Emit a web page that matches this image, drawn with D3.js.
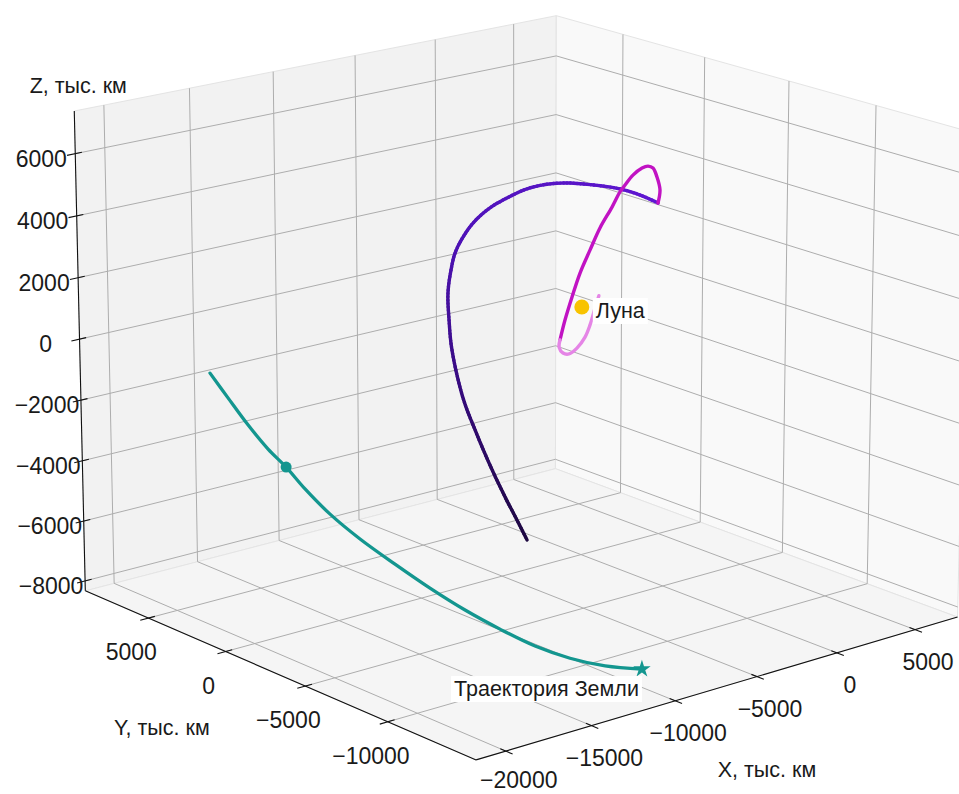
<!DOCTYPE html>
<html><head><meta charset="utf-8">
<script src="https://cdn.jsdelivr.net/npm/d3@7"></script>
<style>
body{margin:0;background:#fff}
svg{display:block}
text{font-family:"Liberation Sans",Arial,sans-serif;fill:#1a1a1a}
</style>
</head><body>
<svg id="chart" width="959" height="794"></svg>
<script>
// ---------------- data (thousand km, Moon-centred frame) ----------------
const xTicks = [-20000, -15000, -10000, -5000, 0, 5000];
const yTicks = [-10000, -5000, 0, 5000];
const zTicks = [-8000, -6000, -4000, -2000, 0, 2000, 4000, 6000];

const xDomain = [-21704, 7763];
const yDomain = [-15159, 9198];
const zDomain = [-8333, 7364];

// Earth trajectory
const earthTrack = [
  [-19840, 2780, -140], [-19380, 2160, -880], [-18870, 1460, -1690], [-18360, 770, -2400],
  [-17900, 140, -2920], [-17420, -520, -3560], [-16780, -1390, -4290], [-16010, -2430, -4990],
  [-15120, -3650, -5680], [-14230, -4870, -6330], [-13340, -6090, -6910], [-12450, -7300, -7400],
  [-11560, -8510, -7820], [-10680, -9720, -8080], [-9790, -10920, -8200], [-8870, -12180, -8160]
];
const earthMark = [-17900, 140, -2920];

// spacecraft: approach leg (colour-graded), transfer leg (magenta), capture leg (violet)
const craftLeg1 = [
  [-3430, 0, -7340], [-4130, 0, -6500], [-4810, 0, -5700], [-5750, 0, -4500], [-6610, 0, -3290],
  [-7400, 0, -2060], [-8070, 0, -390], [-8240, 0, 610], [-8300, 0, 1490], [-8110, 0, 2220],
  [-7860, 0, 2740], [-7370, 0, 3200], [-6760, 0, 3580], [-5910, 0, 3900], [-4920, 0, 4110],
  [-3260, 0, 4310], [-1390, 0, 4250], [680, 0, 3950], [2390, 0, 3620], [3670, 0, 3270], [4830, 0, 2870]
];
const craftLeg2 = [
  [4830, 0, 2870], [4950, 0, 3290], [4750, 0, 3740], [4490, 0, 4070], [4170, 0, 4170], [3790, 0, 4150],
  [3210, 0, 3980], [2710, 0, 3710], [2390, 0, 3520], [1890, 0, 3080], [1130, 0, 2480], [510, 0, 1830],
  [-120, 0, 1140], [-620, 0, 410], [-1060, 0, -300], [-1370, 0, -920]
];
const craftLeg3 = [
  [-1370, 0, -920], [-1430, 0, -1150], [-1180, 0, -1380], [-800, 0, -1460], [-300, 0, -1330],
  [210, 0, -1030], [520, 0, -670], [840, 0, -140], [1080, 0, 240]
];
const moonPos = [0, 0, 0];

const axisTitles = {x: "X, тыс. км", y: "Y, тыс. км", z: "Z, тыс. км"};
const moonLabel = "Луна";
const earthLabel = "Траектория Земли";

// ---------------- camera (matplotlib-like perspective view) ----------------
const camera = {elev: 17.05, azim: -129.83, dist: 9.317, kz: 0.805, scale: 5842.4, cx: 518.6, cy: 365.6};

const xS = d3.scaleLinear().domain(xDomain).range([0, 1]);
const yS = d3.scaleLinear().domain(yDomain).range([0, 1]);
const zS = d3.scaleLinear().domain(zDomain).range([0, 1]);

const er = camera.elev * Math.PI / 180, ar = camera.azim * Math.PI / 180;
const W = [Math.cos(er) * Math.cos(ar), Math.cos(er) * Math.sin(ar), Math.sin(er)];
const ctr = [0.5, 0.5, camera.kz / 2];
const eye = ctr.map((c, i) => c + camera.dist * W[i]);
const un = Math.hypot(W[0], W[1]);
const U = [-W[1] / un, W[0] / un, 0];
const V = [W[1] * U[2] - W[2] * U[1], W[2] * U[0] - W[0] * U[2], W[0] * U[1] - W[1] * U[0]];
const dot = (a, b) => a[0] * b[0] + a[1] * b[1] + a[2] * b[2];

function project(nx, ny, nz) {
  const d = [nx - eye[0], ny - eye[1], nz * camera.kz - eye[2]];
  const vz = -dot(W, d);
  return [camera.cx + camera.scale * dot(U, d) / vz, camera.cy - camera.scale * dot(V, d) / vz];
}
const P = d => project(xS(d[0]), yS(d[1]), zS(d[2]));

const svg = d3.select("#chart");
const line = d3.line();
const smooth = d3.line().curve(d3.curveCatmullRom.alpha(0.5));

// ---------------- panes ----------------
const panes = [
  {pts: [[0,1,0],[1,1,0],[1,1,1],[0,1,1]], fill: "#f2f2f2"},
  {pts: [[1,0,0],[1,1,0],[1,1,1],[1,0,1]], fill: "#f9f9f9"},
  {pts: [[0,0,0],[1,0,0],[1,1,0],[0,1,0]], fill: "#f5f5f5"}
];
svg.append("g").selectAll("path").data(panes).join("path")
  .attr("d", p => line(p.pts.map(q => project(...q))) + "Z")
  .attr("fill", p => p.fill).attr("stroke", "#e4e4e4").attr("stroke-width", 1);

// ---------------- grid ----------------
const grid = [];
xTicks.forEach(t => { const n = xS(t);
  grid.push([[n,0,0],[n,1,0]]); grid.push([[n,1,0],[n,1,1]]); });
yTicks.forEach(t => { const n = yS(t);
  grid.push([[0,n,0],[1,n,0]]); grid.push([[1,n,0],[1,n,1]]); });
zTicks.forEach(t => { const n = zS(t);
  grid.push([[0,1,n],[1,1,n]]); grid.push([[1,0,n],[1,1,n]]); });
svg.append("g").selectAll("path").data(grid).join("path")
  .attr("d", s => line(s.map(q => project(...q))))
  .attr("fill", "none").attr("stroke", "#adadad").attr("stroke-width", 1);

// ---------------- axis lines & ticks ----------------
const axG = svg.append("g");
[[[0,0,0],[1,0,0]], [[0,0,0],[0,1,0]], [[0,1,0],[0,1,1]]].forEach(s =>
  axG.append("path").attr("d", line(s.map(q => project(...q))))
    .attr("stroke", "#111").attr("stroke-width", 1.1).attr("fill", "none"));

const tin = 0.013, tout = -0.016;
const fmt = d3.format("d");
const tickSpecs = [
  ...xTicks.map(t => ({a: [xS(t), tout, 0], b: [xS(t), tin, 0], base: [xS(t), 0, 0], off: [13, 32], txt: fmt(t)})),
  ...yTicks.map(t => ({a: [tout, yS(t), 0], b: [tin, yS(t), 0], base: [0, yS(t), 0], off: [-17, 34], txt: fmt(t)})),
  ...zTicks.map(t => ({a: [tout, 1, zS(t)], b: [tin, 1, zS(t)], base: [0, 1, zS(t)], off: [-34, 5], txt: fmt(t)}))
];
axG.selectAll("path.tick").data(tickSpecs).join("path").attr("class", "tick")
  .attr("d", d => line([project(...d.a), project(...d.b)]))
  .attr("stroke", "#111").attr("stroke-width", 1.1);
axG.selectAll("text.tl").data(tickSpecs).join("text").attr("class", "tl")
  .attr("x", d => project(...d.base)[0] + d.off[0])
  .attr("y", d => Math.min(project(...d.base)[1] + d.off[1], 780))
  .attr("text-anchor", "middle").attr("dominant-baseline", "central")
  .attr("font-size", 23).text(d => d.txt);

// axis titles
const titles = [
  {base: [0.5, 0, 0], off: [42, 84], t: axisTitles.x},
  {base: [0, 0.5, 0], off: [-111, 56], t: axisTitles.y},
  {base: [0, 1, 1], off: [4, -25], t: axisTitles.z}
];
axG.selectAll("text.at").data(titles).join("text").attr("class", "at")
  .attr("x", d => project(...d.base)[0] + d.off[0])
  .attr("y", d => project(...d.base)[1] + d.off[1])
  .attr("text-anchor", "middle").attr("dominant-baseline", "central")
  .attr("font-size", 21.5).text(d => d.t);

// ---------------- trajectories ----------------
const dataG = svg.append("g");
dataG.append("path").attr("d", smooth(earthTrack.map(P)))
  .attr("fill", "none").attr("stroke", "#13968f").attr("stroke-width", 3.3).attr("stroke-linecap", "round");

// graded approach leg: sample smooth path, colour by arc length
const tmp = dataG.append("path").attr("d", smooth(craftLeg1.map(P))).attr("fill", "none").attr("stroke", "none");
const node = tmp.node(), L = node.getTotalLength(), N = 160;
const grad = d3.scaleLinear().domain([0, 0.3, 0.6, 1]).range(["#1d0840", "#360b7c", "#4f12b8", "#5f17d2"]);
const samples = d3.range(N + 1).map(i => { const p = node.getPointAtLength(L * i / N); return [p.x, p.y]; });
dataG.selectAll("path.seg").data(d3.pairs(samples)).join("path").attr("class", "seg")
  .attr("d", s => line(s)).attr("stroke", (s, i) => grad(i / N))
  .attr("stroke-width", 3.4).attr("stroke-linecap", "round").attr("fill", "none");
tmp.remove();

dataG.append("path").attr("d", smooth(craftLeg2.map(P)))
  .attr("fill", "none").attr("stroke", "#c113c3").attr("stroke-width", 3.4).attr("stroke-linecap", "round");
dataG.append("path").attr("d", smooth(craftLeg3.map(P)))
  .attr("fill", "none").attr("stroke", "#e585e6").attr("stroke-width", 3.4).attr("stroke-linecap", "round");

// markers
const em = P(earthMark);
dataG.append("circle").attr("cx", em[0]).attr("cy", em[1]).attr("r", 5.5).attr("fill", "#13968f");
const endE = P(earthTrack[earthTrack.length - 1]);
dataG.append("path").attr("d", d3.symbol(d3.symbolStar, 95)())
  .attr("transform", `translate(${endE[0]},${endE[1]})`).attr("fill", "#13968f");
const mp = P(moonPos);
dataG.append("circle").attr("cx", mp[0]).attr("cy", mp[1]).attr("r", 7.5).attr("fill", "#f8c300");

// labels with white boxes
function boxedLabel(x, y, txt, anchor) {
  const g = svg.append("g");
  const t = g.append("text").attr("x", x).attr("y", y).attr("text-anchor", anchor)
    .attr("dominant-baseline", "central").attr("font-size", 21.5).text(txt);
  const bb = t.node().getBBox();
  g.insert("rect", "text").attr("x", bb.x - 3).attr("y", bb.y - 1).attr("width", bb.width + 6)
    .attr("height", bb.height + 2).attr("fill", "#fff");
}
boxedLabel(mp[0] + 14, mp[1] + 4, moonLabel, "start");
boxedLabel(endE[0] - 3, endE[1] + 20, earthLabel, "end");
</script>
</body></html>
